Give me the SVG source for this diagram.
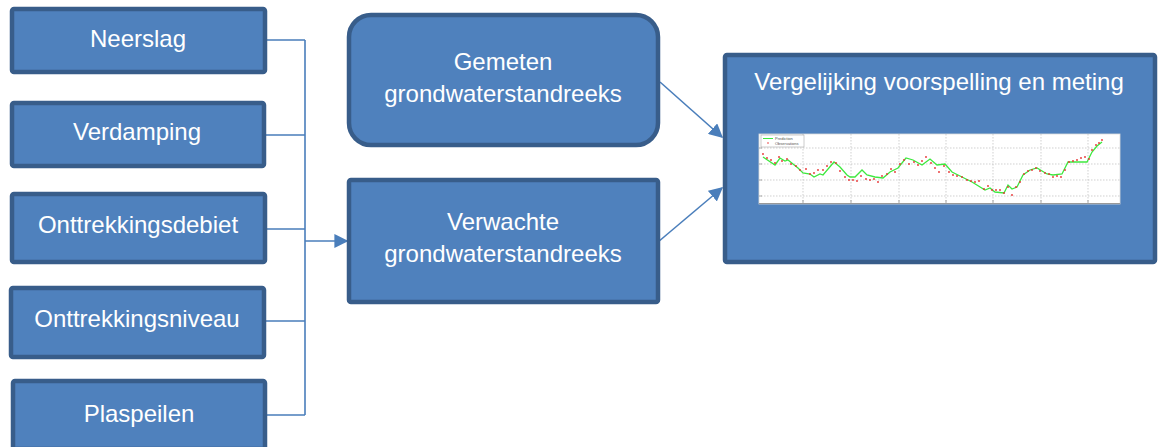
<svg xmlns="http://www.w3.org/2000/svg" width="1159" height="447" viewBox="0 0 1159 447">
<defs>
<style>
.box{fill:#4F81BD;stroke:#385D8A;stroke-width:4.5}
.t{font-family:"Liberation Sans",Arial,sans-serif;font-size:24px;fill:#fff;text-anchor:middle}
.con{fill:none;stroke:#4A7EBB;stroke-width:1.6}
.grid{stroke:#bbb;stroke-width:0.7;stroke-dasharray:1.5,1.5}
.lg{font-family:"Liberation Sans",Arial,sans-serif;font-size:4px;fill:#555}
</style>
<marker id="ah" viewBox="0 0 10 10" refX="9" refY="5" markerWidth="8" markerHeight="8" markerUnits="userSpaceOnUse" orient="auto">
<path d="M0,0 L10,5 L0,10 z" fill="#4A7EBB"/>
</marker>
<marker id="ah2" viewBox="0 0 10 10" refX="9" refY="5" markerWidth="14" markerHeight="14" markerUnits="userSpaceOnUse" orient="auto">
<path d="M0,0 L10,5 L0,10 z" fill="#4A7EBB"/>
</marker>
</defs>
<rect width="1159" height="447" fill="#fff"/>
<g id="connectors">
<path class="con" d="M266,40 H305 M265,135 H305 M266,229 H305 M265,321 H305 M266,415 H305 M305,40 V415"/>
<path class="con" d="M305,241 H347" marker-end="url(#ah2)"/>
<path class="con" d="M660,82 L722,137" marker-end="url(#ah2)"/>
<path class="con" d="M658,242 L722,188" marker-end="url(#ah2)"/>
</g>
<g id="neerslag"><rect class="box" x="12" y="9" width="253" height="63" rx="2"/><text class="t" x="138" y="47">Neerslag</text></g>
<g id="verdamping"><rect class="box" x="12" y="103" width="252" height="63" rx="2"/><text class="t" x="137" y="140">Verdamping</text></g>
<g id="onttrekkingsdebiet"><rect class="box" x="12" y="194" width="253" height="68" rx="2"/><text class="t" x="138" y="233">Onttrekkingsdebiet</text></g>
<g id="onttrekkingsniveau"><rect class="box" x="11" y="288" width="253" height="69" rx="2"/><text class="t" x="137" y="327">Onttrekkingsniveau</text></g>
<g id="plaspeilen"><rect class="box" x="13" y="381" width="252" height="68" rx="2"/><text class="t" x="139" y="422">Plaspeilen</text></g>
<g id="gemeten"><rect class="box" x="349" y="15" width="309" height="130" rx="22"/><text class="t" x="503" y="70">Gemeten</text><text class="t" x="503" y="102">grondwaterstandreeks</text></g>
<g id="verwachte"><rect class="box" x="349" y="180" width="309" height="122" rx="2"/><text class="t" x="503" y="230">Verwachte</text><text class="t" x="503" y="262">grondwaterstandreeks</text></g>
<g id="vergelijking"><rect class="box" x="725" y="55" width="430" height="207" rx="2"/><text class="t" x="939" y="90">Vergelijking voorspelling en meting</text>
<g id="chart">
<rect x="759" y="134" width="361" height="70" fill="#fff" stroke="#ddd" stroke-width="0.8"/>
<path class="grid" d="M803,134V203 M851,134V203 M899,134V203 M946,134V203 M993,134V203 M1041,134V203 M1088,134V203 M761,148H1120 M761,164H1120 M761,180H1120 M761,196H1120"/>
<path d="M759,203.5H1120" stroke="#999" stroke-width="1.2"/>
<path d="M759,148h3 M759,164h3 M759,180h3 M759,196h3 M803,203v-3 M851,203v-3 M899,203v-3 M946,203v-3 M993,203v-3 M1041,203v-3 M1088,203v-3" stroke="#888" stroke-width="0.7"/>
<polyline fill="none" stroke="#3ee83e" stroke-width="1.3" points="763,157 775,165 780,158 785,161 788,160 798,168 803,173 810,174 814,177 820,174 823,175 834,162 840,167 847,175 850,177 855,177 862,170 867,175 875,177 883,178 890,172 898,168 906,158 913,160 922,165 930,159 937,165 945,164 952,172 962,177 972,182 985,190 990,188 995,192 1004,193 1008,185 1012,189 1017,187 1023,175 1030,170 1037,168 1047,174 1053,175 1062,174 1068,162 1087,162 1092,152 1097,146 1102,142"/>
<g fill="#e83030">
<circle cx="763" cy="154" r="0.9"/><circle cx="767" cy="158" r="0.9"/><circle cx="771" cy="160" r="0.9"/><circle cx="775" cy="163" r="0.9"/><circle cx="779" cy="157" r="0.9"/><circle cx="782" cy="161" r="0.9"/><circle cx="787" cy="159" r="0.9"/><circle cx="791" cy="164" r="0.9"/><circle cx="796" cy="166" r="0.9"/><circle cx="800" cy="170" r="0.9"/><circle cx="806" cy="169" r="0.9"/><circle cx="810" cy="174" r="0.9"/><circle cx="814" cy="173" r="0.9"/><circle cx="818" cy="170" r="0.9"/><circle cx="823" cy="170" r="0.9"/><circle cx="827" cy="166" r="0.9"/><circle cx="831" cy="162" r="0.9"/><circle cx="836" cy="163" r="0.9"/><circle cx="840" cy="171" r="0.9"/><circle cx="845" cy="177" r="0.9"/><circle cx="849" cy="180" r="0.9"/><circle cx="853" cy="180" r="0.9"/><circle cx="857" cy="181" r="0.9"/><circle cx="861" cy="176" r="0.9"/><circle cx="866" cy="179" r="0.9"/><circle cx="870" cy="180" r="0.9"/><circle cx="874" cy="179" r="0.9"/><circle cx="878" cy="182" r="0.9"/><circle cx="882" cy="176" r="0.9"/><circle cx="887" cy="174" r="0.9"/><circle cx="891" cy="169" r="0.9"/><circle cx="895" cy="172" r="0.9"/><circle cx="900" cy="164" r="0.9"/><circle cx="904" cy="160" r="0.9"/><circle cx="909" cy="164" r="0.9"/><circle cx="914" cy="162" r="0.9"/><circle cx="918" cy="165" r="0.9"/><circle cx="922" cy="161" r="0.9"/><circle cx="926" cy="157" r="0.9"/><circle cx="931" cy="163" r="0.9"/><circle cx="935" cy="168" r="0.9"/><circle cx="939" cy="172" r="0.9"/><circle cx="944" cy="166" r="0.9"/><circle cx="949" cy="172" r="0.9"/><circle cx="953" cy="175" r="0.9"/><circle cx="957" cy="176" r="0.9"/><circle cx="962" cy="177" r="0.9"/><circle cx="967" cy="180" r="0.9"/><circle cx="971" cy="181" r="0.9"/><circle cx="975" cy="182" r="0.9"/><circle cx="979" cy="181" r="0.9"/><circle cx="984" cy="189" r="0.9"/><circle cx="988" cy="186" r="0.9"/><circle cx="992" cy="190" r="0.9"/><circle cx="996" cy="190" r="0.9"/><circle cx="1000" cy="190" r="0.9"/><circle cx="1004" cy="193" r="0.9"/><circle cx="1008" cy="187" r="0.9"/><circle cx="1012" cy="195" r="0.9"/><circle cx="1016" cy="187" r="0.9"/><circle cx="1020" cy="182" r="0.9"/><circle cx="1024" cy="174" r="0.9"/><circle cx="1028" cy="171" r="0.9"/><circle cx="1032" cy="170" r="0.9"/><circle cx="1036" cy="168" r="0.9"/><circle cx="1040" cy="171" r="0.9"/><circle cx="1045" cy="173" r="0.9"/><circle cx="1049" cy="174" r="0.9"/><circle cx="1053" cy="177" r="0.9"/><circle cx="1057" cy="176" r="0.9"/><circle cx="1061" cy="177" r="0.9"/><circle cx="1065" cy="170" r="0.9"/><circle cx="1069" cy="162" r="0.9"/><circle cx="1073" cy="161" r="0.9"/><circle cx="1077" cy="160" r="0.9"/><circle cx="1081" cy="158" r="0.9"/><circle cx="1085" cy="157" r="0.9"/><circle cx="1089" cy="159" r="0.9"/><circle cx="1092" cy="150" r="0.9"/><circle cx="1096" cy="145" r="0.9"/><circle cx="1099" cy="143" r="0.9"/><circle cx="1102" cy="140" r="0.9"/>
</g>
<rect x="761" y="135" width="43" height="12" fill="#fff" stroke="#999" stroke-width="0.5"/>
<path d="M763,138.5H773" stroke="#3ee83e" stroke-width="1"/>
<circle cx="768" cy="143" r="0.8" fill="#e83030"/>
<text class="lg" x="775" y="140">Prediction</text>
<text class="lg" x="775" y="145">Observations</text>
</g>
</g>
</svg>
